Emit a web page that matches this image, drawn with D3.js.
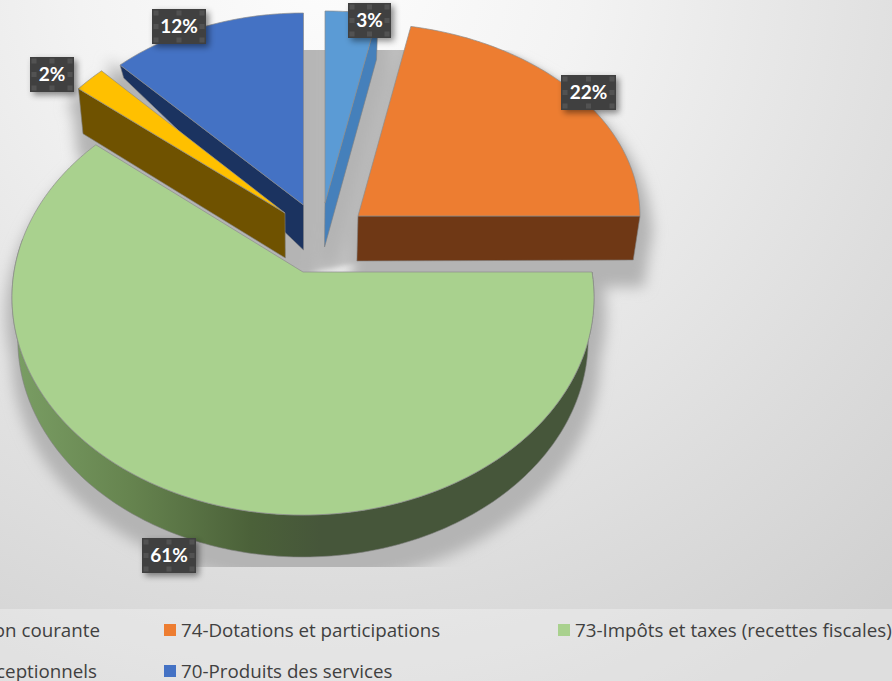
<!DOCTYPE html>
<html>
<head>
<meta charset="utf-8">
<script src="https://cdn.jsdelivr.net/npm/d3@7"></script>
<style>
    html, body { margin: 0; padding: 0; overflow: hidden; }
    text { font-family: "Open Sans", sans-serif; }
    text.pct { font-family: Lato, sans-serif; }
</style>
</head>
<body>
<div id="chart"></div>
<script>
// values, clockwise from twelve o'clock
var names = ["75-Autres produits de gestion courante", "74-Dotations et participations",
    "73-Impôts et taxes (recettes fiscales)", "77-Produits exceptionnels", "70-Produits des services"];
var values = [3, 22, 61, 2, 12];

// look of each slice
var topColors = ["#5b9bd5", "#ed7d31", "#a9d18e", "#ffc000", "#4472c4"];
var wallColors = ["#4580bb", "#6f3815", "#46563a", "#6f5200", "#1b3360"];
var radiusX = [283, 282, 289, 268, 268];
var radiusY = [192, 193, 214.5, 195, 192];
var persp = [0, 0, 0.1173, 0, 0];
var shiftX = [22, 55, 0, -18, 0.5];
var shiftY = [-69, -56, 0, -59, -67];
var wallSide = ["end", "end", null, "start", "start"];
var rimDepth = [45, 44, 42, 45, 13];
var apexDepth = [44, 45, 42, 45, 45];
var labelX = [369.5, 588.5, 169, 52, 179];
var labelY = [20.5, 92.5, 555.5, 74.5, 26.5];
var labelW = [43, 55, 54, 44, 54];
var legendCol = [157, 164, 558, 157, 164];
var legendRow = [630, 630, 630, 671, 671];

var width = 892,
    height = 681,
    cx = 303,
    cy = 272,
    wallShrink = 0.02;

var svg = d3.select("#chart").append("svg")
    .attr("width", width)
    .attr("height", height)
    .style("display", "block");

var defs = svg.append("defs");

var bg = defs.append("radialGradient")
    .attr("id", "bg")
    .attr("gradientUnits", "userSpaceOnUse")
    .attr("cx", 330).attr("cy", -40).attr("r", 850);
bg.append("stop").attr("offset", 0).attr("stop-color", "#fdfdfd");
bg.append("stop").attr("offset", 0.3).attr("stop-color", "#f3f3f3");
bg.append("stop").attr("offset", 0.75).attr("stop-color", "#dcdcdc");
bg.append("stop").attr("offset", 1).attr("stop-color", "#d0d0d0");

var wallGrad = defs.append("linearGradient")
    .attr("id", "greenwall")
    .attr("gradientUnits", "userSpaceOnUse")
    .attr("x1", 13).attr("y1", 0).attr("x2", 594).attr("y2", 0);
wallGrad.append("stop").attr("offset", 0).attr("stop-color", "#7a9e64");
wallGrad.append("stop").attr("offset", 0.2).attr("stop-color", "#66844f");
wallGrad.append("stop").attr("offset", 0.41).attr("stop-color", "#4b6139");
wallGrad.append("stop").attr("offset", 0.53).attr("stop-color", "#46563a");
wallGrad.append("stop").attr("offset", 1).attr("stop-color", "#46563a");

defs.append("filter").attr("id", "blur")
    .attr("x", "-20%").attr("y", "-20%").attr("width", "140%").attr("height", "140%")
    .append("feGaussianBlur").attr("stdDeviation", 7);

defs.append("filter").attr("id", "blursmall")
    .attr("x", "-20%").attr("y", "-20%").attr("width", "140%").attr("height", "140%")
    .append("feGaussianBlur").attr("stdDeviation", 2);

defs.append("filter").attr("id", "labelshadow")
    .attr("x", "-30%").attr("y", "-30%").attr("width", "170%").attr("height", "170%")
    .append("feDropShadow")
    .attr("dx", 3).attr("dy", 3).attr("stdDeviation", 3)
    .attr("flood-color", "#000").attr("flood-opacity", 0.45);

// the shadow stops flat at the top and at the bottom
defs.append("clipPath").attr("id", "shadowclip")
    .append("rect").attr("y", 50).attr("width", width).attr("height", 517);

svg.append("rect").attr("width", width).attr("height", height).attr("fill", "url(#bg)");
svg.append("rect").attr("y", 609).attr("width", width).attr("height", height - 609)
    .attr("fill", "#fff").attr("opacity", 0.3);

var pie = d3.pie().sort(null).value(function (d) { return d; });
var arcs = pie(values);

// slice coordinates -> screen, each slice keeps its own tilt
function project(i, a, r) {
    var u = Math.sin(a) * r,
        v = -Math.cos(a) * r,
        w = 1 - persp[i] * v;
    return [cx + shiftX[i] + radiusX[i] * u / w, cy + shiftY[i] + radiusY[i] * v / w];
}

function sink(p, depth) {
    return [p[0] + (cx - p[0]) * wallShrink, p[1] + depth];
}

function rim(i, a0, a1) {
    var n = Math.max(2, Math.ceil((a1 - a0) * 60));
    return d3.range(n + 1).map(function (k) {
        return project(i, a0 + (a1 - a0) * k / n, 1);
    });
}

var line = d3.line();

function topFace(i) {
    return line([project(i, 0, 0)].concat(rim(i, arcs[i].startAngle, arcs[i].endAngle))) + "Z";
}

function wallFace(i) {
    var apex = project(i, 0, 0);
    if (i == 2) {
        // the round front of the big slice
        var front = rim(i, Math.PI / 2, Math.PI * 1.55);
        var low = front.map(function (p) { return sink(p, rimDepth[i]); }).reverse();
        return line(front.concat(low)) + "Z";
    }
    var a = wallSide[i] == "start" ? arcs[i].startAngle : arcs[i].endAngle;
    var corner = project(i, a, 1);
    return line([apex, corner, sink(corner, rimDepth[i]), sink(apex, apexDepth[i])]) + "Z";
}

// soft shadows under everything
var shadowClip = svg.append("g").attr("clip-path", "url(#shadowclip)");

// grey behind the gaps at the top
var gapPoints = rim(0, arcs[0].startAngle, arcs[0].endAngle)
    .concat(rim(1, arcs[1].startAngle, arcs[1].endAngle))
    .concat([project(4, 0, 0), project(4, 2 * Math.PI, 1), project(2, 0, 0), project(1, 0, 0)]);

shadowClip.append("path")
    .attr("d", line(d3.polygonHull(gapPoints)) + "Z")
    .attr("fill", "#c2c2c2")
    .attr("filter", "url(#blursmall)");

var shadows = shadowClip.append("g")
    .attr("filter", "url(#blur)");

arcs.forEach(function (d, i) {
    shadows.append("path")
        .attr("d", topFace(i) + wallFace(i))
        .attr("transform", "translate(3,18)")
        .attr("fill", "#b4b4b4")
        .attr("stroke", "#b4b4b4")
        .attr("stroke-width", 18);
});

// back slices first, the green one last
var order = [0, 4, 3, 1, 2];
var slices = svg.append("g")
    .selectAll("g")
    .data(order)
    .enter()
    .append("g");

slices.append("path")
    .attr("d", function (i) { return wallFace(i); })
    .attr("fill", function (i) { return i == 2 ? "url(#greenwall)" : wallColors[i]; })
    .attr("stroke", "#7f7f7f")
    .attr("stroke-width", 0.6);

slices.append("path")
    .attr("d", function (i) { return topFace(i); })
    .attr("fill", function (i) { return topColors[i]; })
    .attr("stroke", "#8c8c8c")
    .attr("stroke-width", 0.7);

// data labels with their selection handles
var labelH = 35;
var labels = svg.append("g")
    .selectAll("g")
    .data(values)
    .enter()
    .append("g")
    .attr("transform", function (d, i) {
        return "translate(" + labelX[i] + "," + labelY[i] + ")";
    });

labels.each(function (d, i) {
    var g = d3.select(this),
        w = labelW[i];

    g.append("rect")
        .attr("x", -w / 2).attr("y", -labelH / 2)
        .attr("width", w).attr("height", labelH)
        .attr("fill", "#404040")
        .attr("filter", "url(#labelshadow)");

    [-1, 0, 1].forEach(function (sx) {
        [-1, 0, 1].forEach(function (sy) {
            if (sx == 0 && sy == 0) return;
            g.append("rect")
                .attr("x", sx * (w / 2 - 4) - 2.5)
                .attr("y", sy * (labelH / 2 - 4) - 2.5)
                .attr("width", 5).attr("height", 5)
                .attr("fill", "#525252");
        });
    });

    g.append("text")
        .attr("class", "pct")
        .attr("text-anchor", "middle")
        .attr("y", 6)
        .attr("fill", "#fff")
        .attr("font-weight", 700)
        .attr("font-size", 19)
        .text(d + "%");
});

// legend, its first column runs off the left side
var legend = svg.append("g")
    .selectAll("g")
    .data(names)
    .enter()
    .append("g");

legend.filter(function (d, i) { return legendCol[i] > 157; })
    .append("rect")
    .attr("width", 12).attr("height", 12)
    .attr("fill", function (d) { return topColors[names.indexOf(d)]; })
    .attr("transform", function (d) {
        var i = names.indexOf(d);
        return "translate(" + legendCol[i] + "," + (legendRow[i] - 6) + ")";
    });

legend.append("text")
    .attr("x", function (d, i) { return legendCol[i] > 157 ? legendCol[i] + 17 : (i == 0 ? 100 : 97); })
    .attr("y", function (d, i) { return legendRow[i] + 6.5; })
    .attr("text-anchor", function (d, i) { return legendCol[i] > 157 ? "start" : "end"; })
    .attr("fill", "#404040")
    .attr("font-size", 18.75)
    .text(function (d) { return d; });
</script>
</body>
</html>
